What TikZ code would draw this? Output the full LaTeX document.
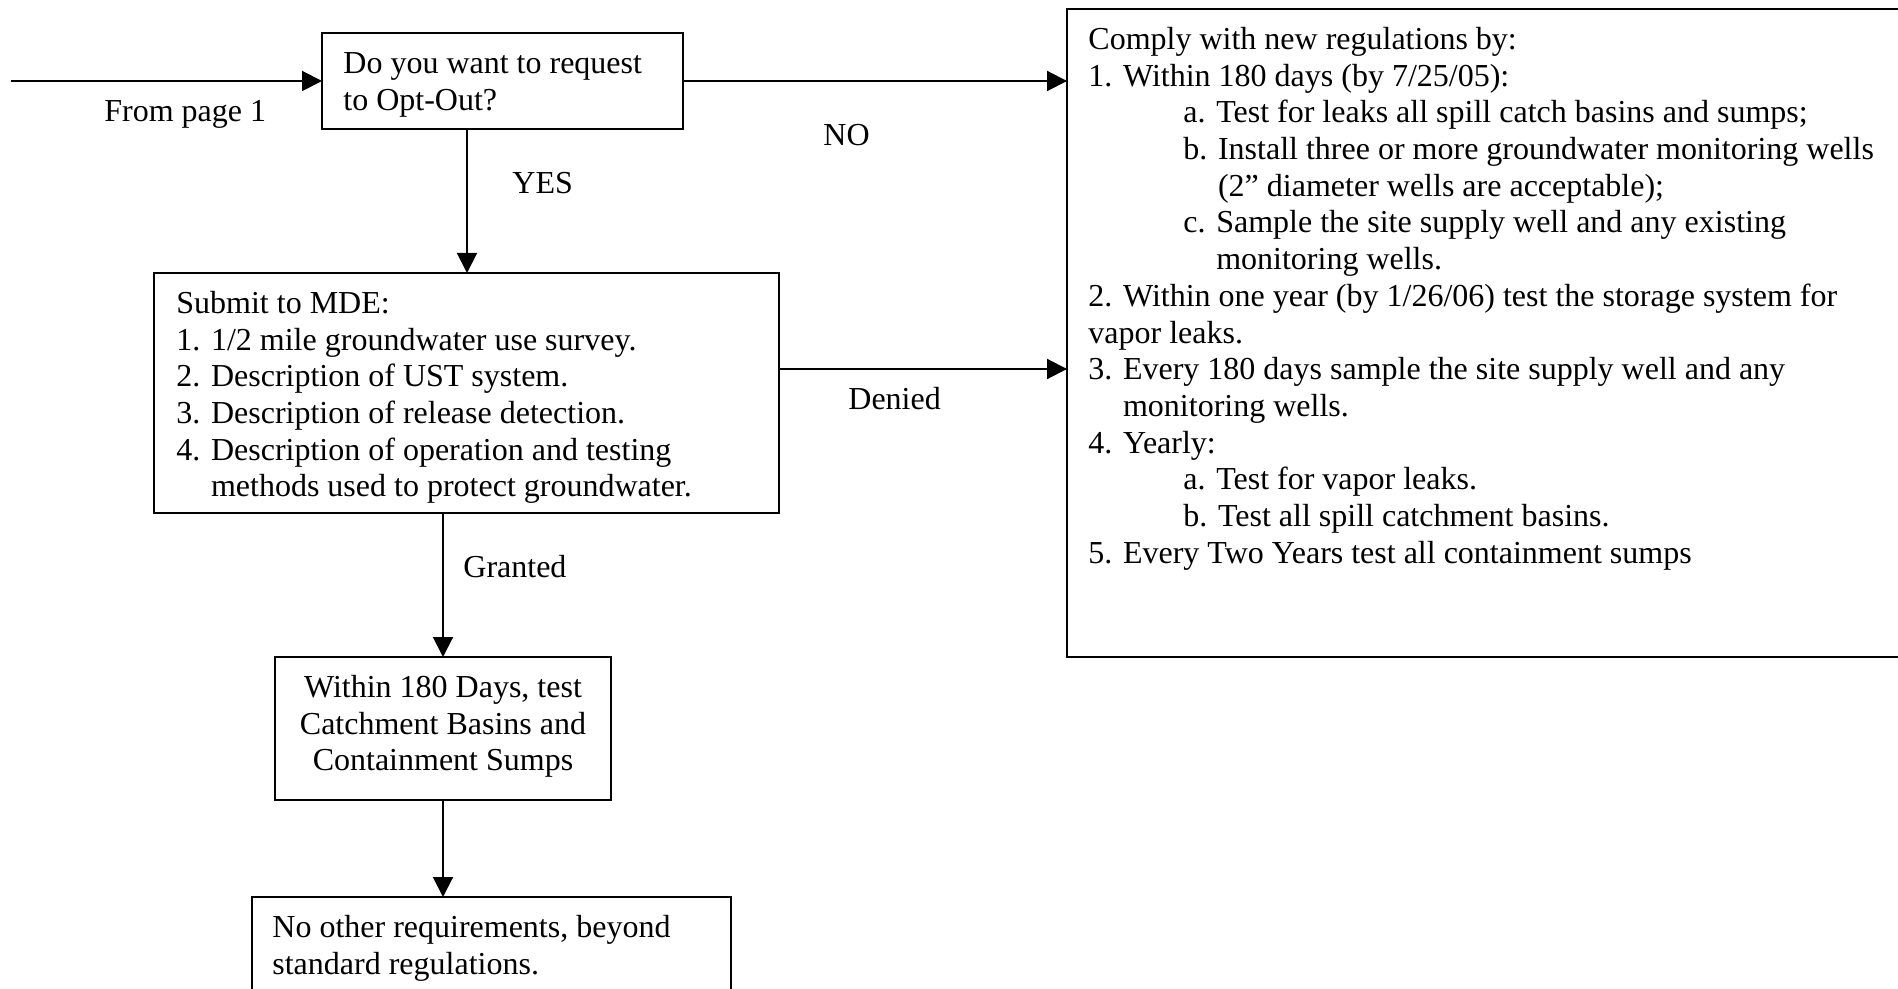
\documentclass[tikz,border=0pt]{standalone}
\usepackage{fontspec}
\setmainfont{Liberation Serif}
\usetikzlibrary{arrows.meta,calc}
\newcommand{\fl}{\rule{0pt}{13pt}}
\newcommand{\ind}{\hspace*{47.5pt}}
\begin{document}
\begin{tikzpicture}[x=0.5pt,y=-0.5pt,
  box/.style={draw,line width=1pt,anchor=north west,inner sep=0pt,outer sep=0pt},
  txt/.style={anchor=north west,inner sep=0pt,align=left,font=\fontsize{16pt}{18.35pt}\selectfont},
  lbl/.style={anchor=base west,inner sep=0pt,font=\fontsize{16pt}{18.35pt}\selectfont},
  arr/.style={line width=1pt,-{Triangle[length=10pt,width=10pt]}}]
\useasboundingbox (0,0) rectangle (1898,989);

% boxes
\node[box,minimum width=180.5pt,minimum height=48pt] (b1) at (322,33) {};
\node[box,minimum width=312.5pt,minimum height=120pt] (b2) at (154,273) {};
\node[box,minimum width=168pt,minimum height=71.5pt] (b3) at (275,657) {};
\node[box,minimum width=239.5pt,minimum height=56.5pt] (b4) at (252,897) {};
\node[box,minimum width=419pt,minimum height=324pt] (big) at (1067,9) {};

% texts
\node[txt] (t1) at (343,47) {\fl Do you want to request\\to Opt-Out?};
\node[txt] (t2) at (176,287) {\fl Submit to MDE:\\
1. 1/2 mile groundwater use survey.\\
2. Description of UST system.\\
3. Description of release detection.\\
4. Description of operation and testing\\
\hphantom{4. }methods used to protect groundwater.};
\node[txt,anchor=north,align=center] (t3) at (443,671) {\fl Within 180 Days, test\\Catchment Basins and\\Containment Sumps};
\node[txt] (t4) at (272,911) {\fl No other requirements, beyond\\standard regulations.};
\node[txt] (tbig) at (1088,23) {\fl Comply with new regulations by:\\
1. Within 180 days (by 7/25/05):\\
\ind a. Test for leaks all spill catch basins and sumps;\\
\ind b. Install three or more groundwater monitoring wells\\
\ind\hphantom{b. }(2” diameter wells are acceptable);\\
\ind c. Sample the site supply well and any existing\\
\ind\hphantom{c. }monitoring wells.\\
2. Within one year (by 1/26/06) test the storage system for\\
vapor leaks.\\
3. Every 180 days sample the site supply well and any\\
\hphantom{3. }monitoring wells.\\
4. Yearly:\\
\ind a. Test for vapor leaks.\\
\ind b. Test all spill catchment basins.\\
5. Every Two Years test all containment sumps};

% labels
\node[lbl] (lfrom) at (104,122) {From page 1};
\node[lbl] (lno) at (823,146) {NO};
\node[lbl] (lyes) at (512,194) {YES};
\node[lbl] (lden) at (848,409) {Denied};
\node[lbl] (lgr) at (463,577) {Granted};

% connectors
\coordinate (start) at (11,81);
\draw[arr] (start) -- (b1.west);
\draw[arr] (b1.east) -- (b1.east -| big.west);
\draw[arr] ($(b1.south west)+(145,0)$) coordinate (ys) -- (ys |- b2.north);
\draw[arr] ($(b2.north east)+(0,96)$) coordinate (ds) -- (ds -| big.west);
\draw[arr] (b3.north |- b2.south) -- (b3.north);
\draw[arr] (b3.south) -- (b3.south |- b4.north);
\end{tikzpicture}
\end{document}
